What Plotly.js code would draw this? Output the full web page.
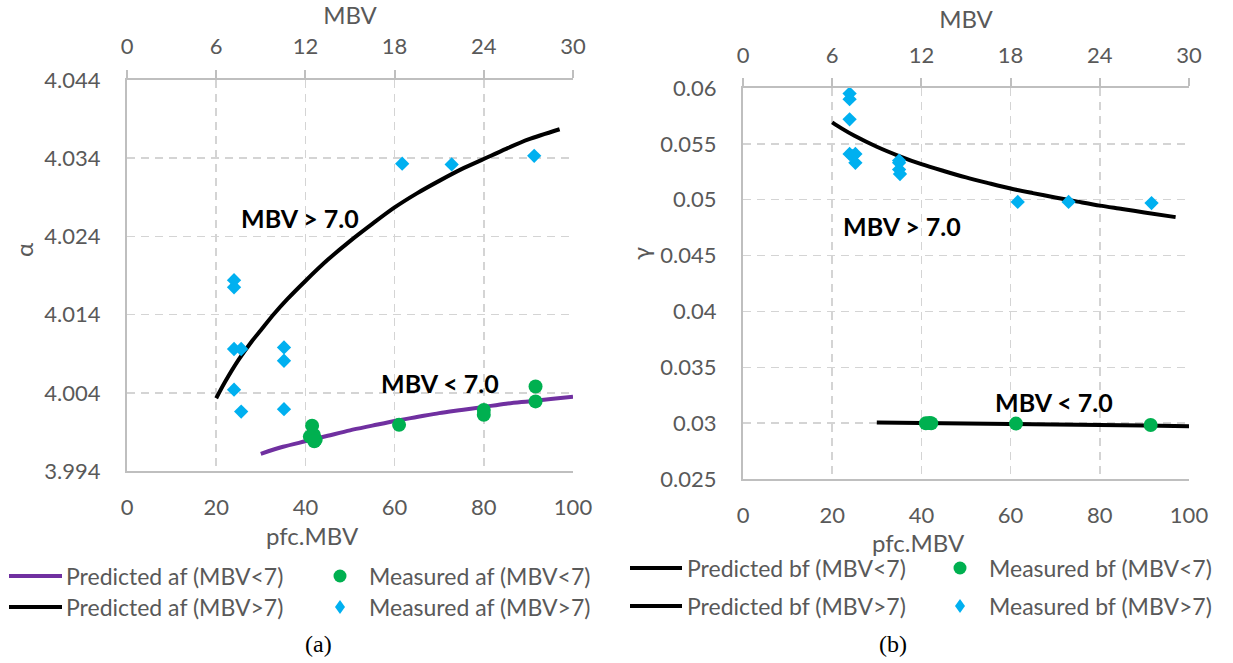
<!DOCTYPE html>
<html>
<head>
<meta charset="utf-8">
<script src="https://cdn.plot.ly/plotly-3.0.1.min.js"></script>
<style>html,body{margin:0;padding:0;background:#fff;}#chart{width:1233px;height:663px;}</style>
</head>
<body>
<div id="chart"></div>
<script>
// ---------- data ----------
// (a) alpha vs pfc.MBV
const predAfLowX = [30, 35, 40, 45, 50, 55, 60, 65, 70, 75, 80, 85, 90, 95, 100];
const predAfLowY = [3.9962, 3.9971, 3.9978, 3.9985, 3.9992, 3.9998, 4.0004, 4.0009, 4.0014, 4.0018, 4.0022, 4.0026, 4.0029, 4.0032, 4.0035];
const predAfHighX = [20, 22, 25, 28, 30, 33, 36, 40, 45, 50, 55, 60, 65, 70, 75, 80, 85, 90, 97];
const predAfHighY = [4.0033, 4.0054, 4.0082, 4.0106, 4.0120, 4.0141, 4.0160, 4.0183, 4.0210, 4.0234, 4.0256, 4.0277, 4.0295, 4.0311, 4.0326, 4.0339, 4.0352, 4.0364, 4.0377];
const measAfLowX = [41.5, 41.9, 41.0, 42.3, 42.0, 61.0, 80.0, 80.0, 91.6, 91.6];
const measAfLowY = [3.9998, 3.9986, 3.9984, 3.9980, 3.9978, 3.9999, 4.0018, 4.0012, 4.0048, 4.0029];
const measAfHighX = [24.0, 24.0, 24.0, 24.0, 25.6, 25.6, 35.2, 35.2, 35.2, 61.7, 72.8, 91.3];
const measAfHighY = [4.0184, 4.0175, 4.0096, 4.0044, 4.0096, 4.0016, 4.0098, 4.0081, 4.0019, 4.0333, 4.0332, 4.0343];

// (b) gamma vs pfc.MBV
const predBfLowX = [30, 40, 50, 60, 70, 80, 90, 100];
const predBfLowY = [0.03005, 0.03001, 0.02997, 0.02993, 0.02988, 0.02983, 0.02978, 0.02973];
const predBfHighX = [20, 22, 25, 30, 35, 40, 45, 50, 55, 60, 65, 70, 75, 80, 85, 90, 97];
const predBfHighY = [0.05692, 0.05641, 0.05572, 0.05474, 0.05391, 0.05318, 0.05257, 0.05200, 0.05149, 0.05100, 0.05059, 0.05020, 0.04983, 0.04947, 0.04917, 0.04886, 0.04844];
const measBfLowX = [41.0, 41.8, 42.2, 61.2, 91.4];
const measBfLowY = [0.02998, 0.03001, 0.02999, 0.02996, 0.02983];
const measBfHighX = [23.9, 23.9, 23.9, 23.9, 24.6, 25.2, 25.2, 35.0, 35.0, 35.0, 35.2, 61.6, 73.0, 91.6];
const measBfHighY = [0.0595, 0.0590, 0.0572, 0.0541, 0.0539, 0.0541, 0.0533, 0.0535, 0.0533, 0.0527, 0.0523, 0.0498, 0.0498, 0.0497];

// tick labels
const pfcTicks = [0, 20, 40, 60, 80, 100];
const mbvTicks = [0, 6, 12, 18, 24, 30];
const alphaTicks = [3.994, 4.004, 4.014, 4.024, 4.034, 4.044];
const alphaTickText = ['3.994', '4.004', '4.014', '4.024', '4.034', '4.044'];
const gammaTicks = [0.025, 0.03, 0.035, 0.04, 0.045, 0.05, 0.055, 0.06];
const gammaTickText = ['0.025', '0.03', '0.035', '0.04', '0.045', '0.05', '0.055', '0.06'];

const legendLabelsA = ['Predicted af (MBV<7)', 'Predicted af (MBV>7)', 'Measured af (MBV<7)', 'Measured af (MBV>7)'];
const legendLabelsB = ['Predicted bf (MBV<7)', 'Predicted bf (MBV>7)', 'Measured bf (MBV<7)', 'Measured bf (MBV>7)'];

// ---------- styling ----------
const W = 1233, H = 663;
const FONT = 'Lato, "Liberation Sans", sans-serif';
const GREY = '#595959';
const PURPLE = '#7030a0', GREEN = '#00b050', BLUE = '#00b0f0', BLACK = '#000000';
const px = x => x / W;
const py = y => 1 - y / H;

function lineTrace(x, y, color, name, xa, ya) {
  return {x, y, type: 'scatter', mode: 'lines', name, xaxis: xa, yaxis: ya,
    line: {color, width: 4, shape: 'spline', smoothing: 0.8}, showlegend: false, hoverinfo: 'x+y'};
}
function markTrace(x, y, color, symbol, size, name, xa, ya) {
  return {x, y, type: 'scatter', mode: 'markers', name, xaxis: xa, yaxis: ya,
    marker: {color, symbol, size, line: {width: 0}}, showlegend: false};
}
// empty traces that register the secondary (top, MBV) axes so Plotly draws them
function axisHolder(xa, ya) {
  return {x: [], y: [], type: 'scatter', mode: 'markers', xaxis: xa, yaxis: ya, showlegend: false, hoverinfo: 'skip'};
}

const data = [
  axisHolder('x2', 'y'),
  axisHolder('x4', 'y3'),
  lineTrace(predAfLowX, predAfLowY, PURPLE, legendLabelsA[0], 'x', 'y'),
  lineTrace(predAfHighX, predAfHighY, BLACK, legendLabelsA[1], 'x', 'y'),
  markTrace(measAfLowX, measAfLowY, GREEN, 'circle', 14, legendLabelsA[2], 'x', 'y'),
  markTrace(measAfHighX, measAfHighY, BLUE, 'diamond', 11, legendLabelsA[3], 'x', 'y'),
  lineTrace(predBfLowX, predBfLowY, BLACK, legendLabelsB[0], 'x3', 'y3'),
  lineTrace(predBfHighX, predBfHighY, BLACK, legendLabelsB[1], 'x3', 'y3'),
  markTrace(measBfLowX, measBfLowY, GREEN, 'circle', 14, legendLabelsB[2], 'x3', 'y3'),
  markTrace(measBfHighX, measBfHighY, BLUE, 'diamond', 11, legendLabelsB[3], 'x3', 'y3')
];

const tickFont = {family: FONT, size: 22, color: GREY};
const titleFont = {family: FONT, size: 24, color: GREY};

function bottomAxis(domain, anchor) {
  return {domain, anchor, range: [0, 100], tickvals: pfcTicks, ticktext: pfcTicks.map(String),
    showgrid: true, gridcolor: '#d4d4d4', gridwidth: 1.5, griddash: '8px,6px',
    showline: true, linecolor: '#bfbfbf', linewidth: 2, ticks: '', zeroline: false,
    tickfont: tickFont, ticklabelstandoff: 16, fixedrange: true};
}
function topAxis(overlay, anchor, title, standoff, titleStandoff) {
  return {overlaying: overlay, anchor, side: 'top', range: [0, 30], tickvals: mbvTicks, ticktext: mbvTicks.map(String),
    showgrid: false, showline: true, linecolor: '#bfbfbf', linewidth: 2, zeroline: false,
    ticks: 'outside', ticklen: 8, tickwidth: 2, tickcolor: '#bfbfbf',
    tickfont: tickFont, ticklabelstandoff: standoff, title: {text: title, font: titleFont, standoff: titleStandoff}, fixedrange: true};
}
function leftAxis(domain, anchor, range, vals, text) {
  return {domain, anchor, range, tickvals: vals, ticktext: text,
    showgrid: true, gridcolor: '#d4d4d4', gridwidth: 1.5, griddash: '8px,6px',
    showline: true, linecolor: '#bfbfbf', linewidth: 2, ticks: '', zeroline: false,
    tickfont: tickFont, ticklabelstandoff: 20, fixedrange: true};
}

const annotations = [];
function txt(text, x, y, opts) {
  annotations.push(Object.assign({text, x, y, xref: 'paper', yref: 'paper', showarrow: false,
    xanchor: 'center', yanchor: 'middle', font: {family: FONT, size: 23, color: GREY}}, opts || {}));
}
// in-plot labels (data coordinates)
function dataLabel(text, x, y, xr, yr) {
  annotations.push({text, x, y, xref: xr, yref: yr, showarrow: false, xanchor: 'center', yanchor: 'middle',
    font: {family: FONT, size: 25, color: BLACK, weight: 'bold'}});
}
dataLabel('MBV &gt; 7.0', 38.8, 4.0263, 'x', 'y');
dataLabel('MBV &lt; 7.0', 70.2, 4.0052, 'x', 'y');
dataLabel('MBV &gt; 7.0', 35.6, 0.04765, 'x3', 'y3');
dataLabel('MBV &lt; 7.0', 69.7, 0.03189, 'x3', 'y3');

// axis titles positioned as in the figure
txt('pfc.MBV', px(312), py(535), {font: titleFont});
txt('pfc.MBV', px(918), py(542), {font: titleFont});
txt('α', px(23), py(250), {font: titleFont, textangle: -90});
txt('γ', px(641), py(254), {font: titleFont, textangle: -90});

// captions
txt('(a)', px(318), py(644), {font: {family: '"Liberation Serif", serif', size: 24, color: BLACK}});
txt('(b)', px(893), py(644), {font: {family: '"Liberation Serif", serif', size: 24, color: BLACK}});

// legends (drawn as shapes + text)
const shapes = [];
function legLine(x0, x1, y, color) {
  shapes.push({type: 'line', xref: 'paper', yref: 'paper', x0: px(x0), x1: px(x1), y0: py(y), y1: py(y),
    line: {color, width: 4}});
}
function legCircle(x, y, color) {
  shapes.push({type: 'circle', xref: 'paper', yref: 'paper', xsizemode: 'pixel', ysizemode: 'pixel',
    xanchor: px(x), yanchor: py(y), x0: -6.5, x1: 6.5, y0: -6.5, y1: 6.5, fillcolor: color, line: {width: 0}});
}
function legDiamond(x, y, color) {
  shapes.push({type: 'path', xref: 'paper', yref: 'paper', xsizemode: 'pixel', ysizemode: 'pixel',
    xanchor: px(x), yanchor: py(y), path: 'M0,7L5,0L0,-7L-5,0Z', fillcolor: color, line: {width: 0}});
}
const legTxt = (t, x, y) => txt(t, px(x), py(y), {xanchor: 'left'});

legLine(9, 62, 576, PURPLE); legTxt(legendLabelsA[0], 64, 576);
legLine(9, 62, 607, BLACK);  legTxt(legendLabelsA[1], 64, 607);
legCircle(340, 576, GREEN);  legTxt(legendLabelsA[2], 367, 576);
legDiamond(340, 607, BLUE);  legTxt(legendLabelsA[3], 367, 607);

legLine(630, 682, 568, BLACK); legTxt(legendLabelsB[0], 685, 568);
legLine(630, 682, 606, BLACK); legTxt(legendLabelsB[1], 685, 606);
legCircle(960, 568, GREEN);    legTxt(legendLabelsB[2], 987, 568);
legDiamond(960, 606, BLUE);    legTxt(legendLabelsB[3], 987, 606);

const layout = {
  width: W, height: H, margin: {l: 0, r: 0, t: 0, b: 0, pad: 0},
  paper_bgcolor: '#ffffff', plot_bgcolor: '#ffffff', showlegend: false,
  font: {family: FONT, color: GREY},
  xaxis: bottomAxis([px(127), px(573)], 'y'),
  xaxis2: topAxis('x', 'y', 'MBV', 7, 9),
  yaxis: leftAxis([py(471), py(80)], 'x', [3.994, 4.044], alphaTicks, alphaTickText),
  xaxis3: bottomAxis([px(743), px(1189)], 'y3'),
  xaxis4: topAxis('x3', 'y3', 'MBV', 6, 6),
  yaxis3: leftAxis([py(479), py(88)], 'x3', [0.025, 0.06], gammaTicks, gammaTickText),
  annotations, shapes
};

Plotly.newPlot('chart', data, layout, {displayModeBar: false, staticPlot: true});
</script>
</body>
</html>
